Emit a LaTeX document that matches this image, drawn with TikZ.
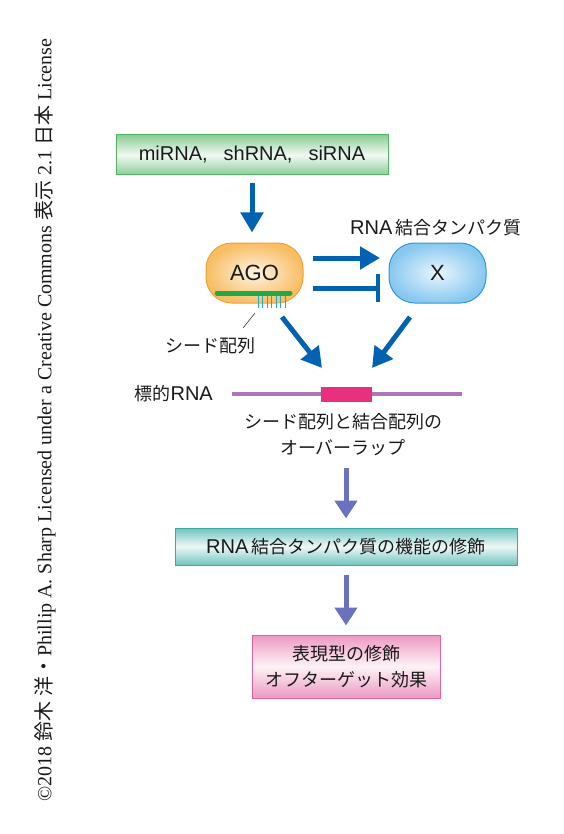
\documentclass[tikz,border=0pt]{standalone}
\usepackage{fontspec}
\setmainfont{Liberation Sans}
\newfontfamily\jpfont{Noto Sans CJK JP}
\newfontfamily\serifrm{Liberation Serif}
\newcommand\jp[1]{{\jpfont\fontsize{18}{26}\selectfont #1}}
\newcommand\jpsm[1]{{\jpfont #1}}
\usetikzlibrary{arrows.meta,positioning,calc}
\definecolor{ink}{HTML}{1A1A1A}
\definecolor{flowblue}{HTML}{0062B0}
\definecolor{flowlav}{HTML}{6A72BE}
\definecolor{grnedge}{HTML}{52B464}
\definecolor{grnfill}{HTML}{8CCD96}
\definecolor{orgedge}{HTML}{F0A030}
\definecolor{orgfill}{HTML}{F8BE64}
\definecolor{bluedge}{HTML}{2C96DC}
\definecolor{blufill}{HTML}{88C8F0}
\definecolor{tealedge}{HTML}{3CAAA0}
\definecolor{tealfill}{HTML}{70C4BE}
\definecolor{pinkedge}{HTML}{E064A0}
\definecolor{pinkfill}{HTML}{EC98C0}
\definecolor{seedbar}{HTML}{1EAA46}
\definecolor{seedtick}{HTML}{28AABE}
\definecolor{rnaline}{HTML}{AA78B9}
\definecolor{rnasite}{HTML}{E8307F}
\tikzset{
  panel/.style={draw=#1edge,line width=1pt,top color=#1fill,bottom color=#1fill,middle color=white!88!#1fill,inner sep=0pt,align=center,font=\fontsize{20}{26}\selectfont,text=ink},
  protein/.style={draw=#1edge,line width=1pt,shading=radial,inner color=white!82!#1fill,outer color=#1fill,rounded corners=26pt,minimum width=97pt,minimum height=60pt,inner sep=0pt,font=\fontsize{22}{26}\selectfont,text=ink},
  label/.style={align=center,inner sep=0pt,font=\fontsize{20}{26}\selectfont,text=ink},
  flow/.style={-{Triangle[length=20pt,width=22pt]},line width=5pt,draw=flowblue},
  block/.style={-{Bar[width=28pt,line width=4pt]},line width=5pt,draw=flowblue},
  lavflow/.style={-{Triangle[length=18pt,width=22pt]},line width=5pt,draw=flowlav}
}

\begin{document}
\begin{tikzpicture}[x=1pt,y=-1pt]
  \useasboundingbox (0,0) rectangle (564,834);

  \node[panel=grn,minimum width=272pt,minimum height=40pt] (sources) at (252,155) {miRNA,\hspace{16pt}shRNA,\hspace{16pt}siRNA};
  \node[protein=org] (ago) at (254.5,273) {AGO};
  \node[protein=blu] (xprot) at (437.5,273) {X};
  \node[label,anchor=south] (xname) at (436,236) {RNA\,\jp{結合タンパク質}};
  \node[label] (seedname) at (210,346) {\jp{シード配列}};

  % seed region on AGO
  \draw[seedbar,line width=5pt,line cap=round] (217,293) -- (290,293);
  \foreach \i in {0,...,6}
    \draw[seedtick,line width=1pt] (258+4.5*\i,296) -- (258+4.5*\i,308);
  \coordinate (seedfoot) at (243,328);
  \draw[ink,line width=0.5pt] (255,313) -- (seedfoot);

  % target RNA
  \coordinate (rnaL) at (232,394);
  \coordinate (rnaR) at (462,394);
  \draw[rnaline,line width=4pt] (rnaL) -- (rnaR);
  \node[fill=rnasite,minimum width=51pt,minimum height=15pt,inner sep=0pt] (site) at (346.5,394.5) {};
  \node[label,anchor=east] (target) at (213,394) {\jp{標的}RNA};
  \node[label] (overlap) at (343,435) {\jp{シード配列と結合配列の}\\\jp{オーバーラップ}};

  \node[panel=teal,minimum width=342pt,minimum height=37pt] (modify) at (346,546.5) {RNA\,\jp{結合タンパク質の機能の修飾}};
  \node[panel=pink,minimum width=188pt,minimum height=63pt] (pheno) at (346,666.5) {\jp{表現型の修飾}\\\jp{オフターゲット効果}};

  \coordinate (agoR1) at (313,258);
  \coordinate (agoR2) at (313,288);
  \coordinate (xL1) at (380,258);
  \coordinate (xL2) at (380,288);
  \coordinate (agoS) at (282,317);
  \coordinate (xS) at (410,317);
  \coordinate (hitL) at (322,368);
  \coordinate (hitR) at (372,368);
  \coordinate (lavtop) at (346,468);

  \draw[flow,shorten <=8pt,shorten >=10pt] (sources.south) -- (sources.south |- ago.north);
  \draw[flow] (agoR1) -- (xL1);
  \draw[block] (agoR2) -- (xL2);
  \draw[flow] (agoS) -- (hitL);
  \draw[flow] (xS) -- (hitR);
  \draw[lavflow,shorten >=9pt] (lavtop) -- (modify.north);
  \draw[lavflow,shorten <=9pt,shorten >=9pt] (modify.south) -- (pheno.north);

  \node[rotate=90,inner sep=0pt,font=\fontsize{20}{24}\serifrm,text=ink] (credit) at (45,420)
    {\textcopyright 2018 \jpsm{鈴木 洋・}Phillip A. Sharp Licensed under a Creative Commons \jpsm{表示} 2.1 \jpsm{日本} License};
\end{tikzpicture}
\end{document}
